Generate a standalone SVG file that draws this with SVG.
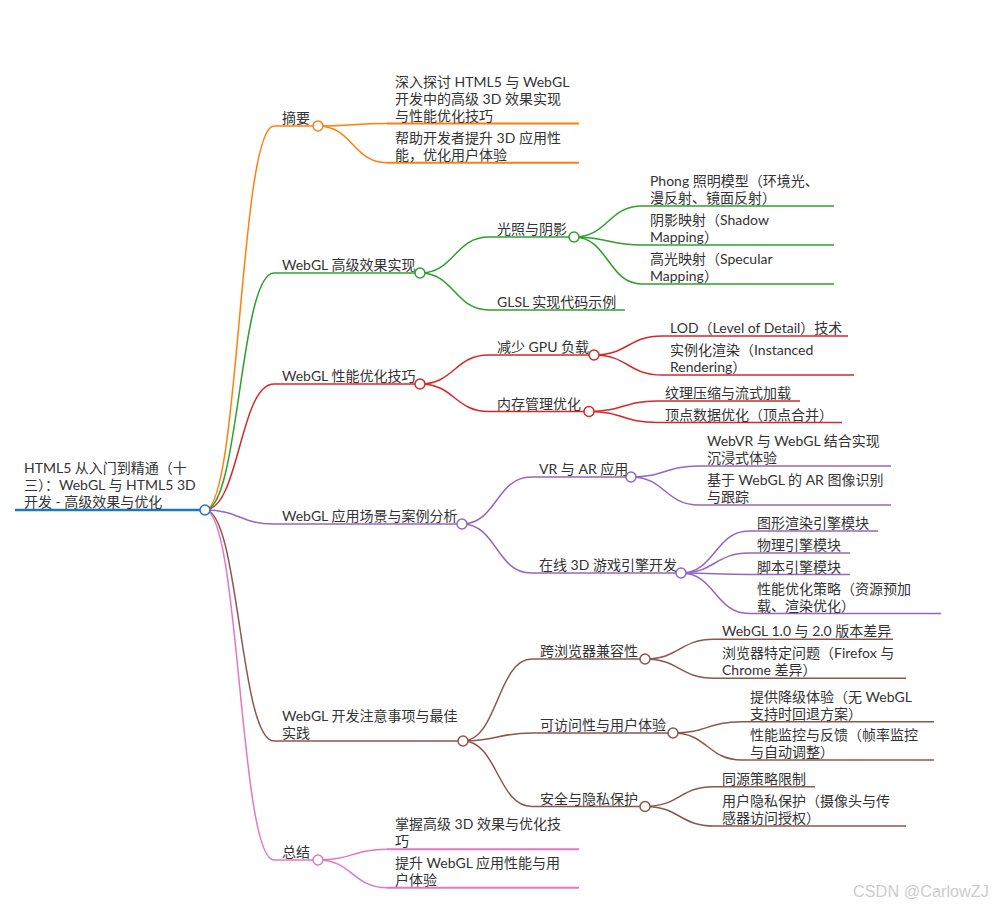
<svg xmlns="http://www.w3.org/2000/svg" width="1004" height="910" viewBox="0 0 1004 910">
<style>
text{font-family:Lato,"Noto Sans CJK SC",sans-serif;font-size:14px;fill:#333}
.wm{font-family:"Liberation Sans",Arial,sans-serif;font-size:16.3px;fill:#cdcdcd}
path,line{fill:none;stroke-width:1.5}
.dot{fill:#fff;stroke-width:1.5}
.b{stroke:#1f77b4}.o{stroke:#ff7f0e}.g{stroke:#2ca02c}.r{stroke:#d62728}.p{stroke:#9467bd}.n{stroke:#8c564b}.k{stroke:#e377c2}
</style>
<rect width="1004" height="910" fill="#fff"/>
<g id="connectors">
<path class="o" d="M205,510 C239.5,510 239.5,126 274,126"/>
<path class="g" d="M205,510 C239.5,510 239.5,273 274,273"/>
<path class="r" d="M205,510 C239.5,510 239.5,384 274,384"/>
<path class="p" d="M205,510 C239.5,510 239.5,524 274,524"/>
<path class="n" d="M205,510 C239.5,510 239.5,741 274,741"/>
<path class="k" d="M205,510 C239.5,510 239.5,860 274,860"/>
<path class="o" d="M318,126 C352.5,126 352.5,123.5 387,123.5"/>
<path class="o" d="M318,126 C352.5,126 352.5,162.7 387,162.7"/>
<path class="g" d="M420,273 C454.5,273 454.5,237 489,237"/>
<path class="g" d="M420,273 C454.5,273 454.5,310 489,310"/>
<path class="g" d="M574,237 C608,237 608,206 642,206"/>
<path class="g" d="M574,237 C608,237 608,245 642,245"/>
<path class="g" d="M574,237 C608,237 608,284 642,284"/>
<path class="r" d="M420,384 C454.5,384 454.5,355 489,355"/>
<path class="r" d="M420,384 C454.5,384 454.5,411.5 489,411.5"/>
<path class="r" d="M594,355 C628,355 628,336 662,336"/>
<path class="r" d="M594,355 C628,355 628,375 662,375"/>
<path class="r" d="M589,411.5 C623,411.5 623,401 657,401"/>
<path class="r" d="M589,411.5 C623,411.5 623,422.5 657,422.5"/>
<path class="p" d="M462,524 C496.5,524 496.5,477 531,477"/>
<path class="p" d="M462,524 C496.5,524 496.5,573 531,573"/>
<path class="p" d="M631,477 C665,477 665,466 699,466"/>
<path class="p" d="M631,477 C665,477 665,505 699,505"/>
<path class="p" d="M681,573 C715,573 715,531 749,531"/>
<path class="p" d="M681,573 C715,573 715,553 749,553"/>
<path class="p" d="M681,573 C715,573 715,574.5 749,574.5"/>
<path class="p" d="M681,573 C715,573 715,613.5 749,613.5"/>
<path class="n" d="M463,741 C497.5,741 497.5,659 532,659"/>
<path class="n" d="M463,741 C497.5,741 497.5,733 532,733"/>
<path class="n" d="M463,741 C497.5,741 497.5,806.5 532,806.5"/>
<path class="n" d="M645,659 C679.5,659 679.5,639.3 714,639.3"/>
<path class="n" d="M645,659 C679.5,659 679.5,678.3 714,678.3"/>
<path class="n" d="M673,733 C707.5,733 707.5,721.7 742,721.7"/>
<path class="n" d="M673,733 C707.5,733 707.5,760 742,760"/>
<path class="n" d="M645,806.5 C679.5,806.5 679.5,786.7 714,786.7"/>
<path class="n" d="M645,806.5 C679.5,806.5 679.5,826 714,826"/>
<path class="k" d="M318,860 C352.5,860 352.5,849.3 387,849.3"/>
<path class="k" d="M318,860 C352.5,860 352.5,887.7 387,887.7"/>
</g>

<g id="root">
<path class="b" style="stroke-width:2.5" d="M15,510 H205"/>
<text x="24" y="473"><tspan x="24" y="473">HTML5 从入门到精通（十</tspan><tspan x="24" y="490">三）：WebGL 与 HTML5 3D</tspan><tspan x="24" y="507">开发 - 高级效果与优化</tspan></text>
<circle class="dot b" cx="205" cy="510" r="5"/>
</g>

<g id="n-summary">
<path class="o" d="M274,126 H318"/>
<text x="282" y="123">摘要</text>
<circle class="dot o" cx="318" cy="126" r="5"/>
</g>
<g id="n-summary-1">
<path class="o" style="stroke-width:2" d="M387,123.5 H579"/>
<text x="395" y="86.5"><tspan x="395" y="86.5">深入探讨 HTML5 与 WebGL</tspan><tspan x="395" y="103.5">开发中的高级 3D 效果实现</tspan><tspan x="395" y="120.5">与性能优化技巧</tspan></text>
</g>
<g id="n-summary-2">
<path class="o" style="stroke-width:2" d="M387,162.7 H579"/>
<text x="395" y="142.7"><tspan x="395" y="142.7">帮助开发者提升 3D 应用性</tspan><tspan x="395" y="159.7">能，优化用户体验</tspan></text>
</g>

<g id="n-advanced">
<path class="g" d="M274,273 H420"/>
<text x="282" y="270">WebGL 高级效果实现</text>
<circle class="dot g" cx="420" cy="273" r="5"/>
</g>
<g id="n-lighting">
<path class="g" d="M489,237 H574"/>
<text x="497" y="234">光照与阴影</text>
<circle class="dot g" cx="574" cy="237" r="5"/>
</g>
<g id="n-phong">
<path class="g" d="M642,206 H834"/>
<text x="650" y="186"><tspan x="650" y="186">Phong 照明模型（环境光、</tspan><tspan x="650" y="203">漫反射、镜面反射）</tspan></text>
</g>
<g id="n-shadow">
<path class="g" d="M642,245 H834"/>
<text x="650" y="225"><tspan x="650" y="225">阴影映射（Shadow</tspan><tspan x="650" y="242">Mapping）</tspan></text>
</g>
<g id="n-specular">
<path class="g" d="M642,284 H834"/>
<text x="650" y="264"><tspan x="650" y="264">高光映射（Specular</tspan><tspan x="650" y="281">Mapping）</tspan></text>
</g>
<g id="n-glsl">
<path class="g" d="M489,310 H625"/>
<text x="497" y="307">GLSL 实现代码示例</text>
</g>

<g id="n-perf">
<path class="r" d="M274,384 H420"/>
<text x="282" y="381">WebGL 性能优化技巧</text>
<circle class="dot r" cx="420" cy="384" r="5"/>
</g>
<g id="n-gpu">
<path class="r" d="M489,355 H594"/>
<text x="497" y="352">减少 GPU 负载</text>
<circle class="dot r" cx="594" cy="355" r="5"/>
</g>
<g id="n-lod">
<path class="r" d="M662,336 H848"/>
<text x="670" y="333">LOD（Level of Detail）技术</text>
</g>
<g id="n-instanced">
<path class="r" d="M662,375 H854"/>
<text x="670" y="355"><tspan x="670" y="355">实例化渲染（Instanced</tspan><tspan x="670" y="372">Rendering）</tspan></text>
</g>
<g id="n-memory">
<path class="r" d="M489,411.5 H589"/>
<text x="497" y="408.5">内存管理优化</text>
<circle class="dot r" cx="589" cy="411.5" r="5"/>
</g>
<g id="n-texture">
<path class="r" d="M657,401 H800"/>
<text x="665" y="398">纹理压缩与流式加载</text>
</g>
<g id="n-vertex">
<path class="r" d="M657,422.5 H842"/>
<text x="665" y="419.5">顶点数据优化（顶点合并）</text>
</g>

<g id="n-apps">
<path class="p" d="M274,524 H462"/>
<text x="282" y="521">WebGL 应用场景与案例分析</text>
<circle class="dot p" cx="462" cy="524" r="5"/>
</g>
<g id="n-vrar">
<path class="p" d="M531,477 H631"/>
<text x="539" y="474">VR 与 AR 应用</text>
<circle class="dot p" cx="631" cy="477" r="5"/>
</g>
<g id="n-webvr">
<path class="p" d="M699,466 H891"/>
<text x="707" y="446"><tspan x="707" y="446">WebVR 与 WebGL 结合实现</tspan><tspan x="707" y="463">沉浸式体验</tspan></text>
</g>
<g id="n-ar">
<path class="p" d="M699,505 H891"/>
<text x="707" y="485"><tspan x="707" y="485">基于 WebGL 的 AR 图像识别</tspan><tspan x="707" y="502">与跟踪</tspan></text>
</g>
<g id="n-engine">
<path class="p" d="M531,573 H681"/>
<text x="539" y="570">在线 3D 游戏引擎开发</text>
<circle class="dot p" cx="681" cy="573" r="5"/>
</g>
<g id="n-render">
<path class="p" d="M749,531 H878"/>
<text x="757" y="528">图形渲染引擎模块</text>
</g>
<g id="n-physics">
<path class="p" d="M749,553 H850"/>
<text x="757" y="550">物理引擎模块</text>
</g>
<g id="n-script">
<path class="p" d="M749,574.5 H850"/>
<text x="757" y="571.5">脚本引擎模块</text>
</g>
<g id="n-strategy">
<path class="p" d="M749,613.5 H941"/>
<text x="757" y="593.5"><tspan x="757" y="593.5">性能优化策略（资源预加</tspan><tspan x="757" y="610.5">载、渲染优化）</tspan></text>
</g>

<g id="n-practice">
<path class="n" d="M274,741 H463"/>
<text x="282" y="721"><tspan x="282" y="721">WebGL 开发注意事项与最佳</tspan><tspan x="282" y="738">实践</tspan></text>
<circle class="dot n" cx="463" cy="741" r="5"/>
</g>
<g id="n-compat">
<path class="n" d="M532,659 H645"/>
<text x="540" y="656">跨浏览器兼容性</text>
<circle class="dot n" cx="645" cy="659" r="5"/>
</g>
<g id="n-version">
<path class="n" d="M714,639.3 H893"/>
<text x="722" y="636.3">WebGL 1.0 与 2.0 版本差异</text>
</g>
<g id="n-browser">
<path class="n" d="M714,678.3 H906"/>
<text x="722" y="658.3"><tspan x="722" y="658.3">浏览器特定问题（Firefox 与</tspan><tspan x="722" y="675.3">Chrome 差异）</tspan></text>
</g>
<g id="n-access">
<path class="n" d="M532,733 H673"/>
<text x="540" y="730">可访问性与用户体验</text>
<circle class="dot n" cx="673" cy="733" r="5"/>
</g>
<g id="n-fallback">
<path class="n" d="M742,721.7 H934"/>
<text x="750" y="701.7"><tspan x="750" y="701.7">提供降级体验（无 WebGL</tspan><tspan x="750" y="718.7">支持时回退方案）</tspan></text>
</g>
<g id="n-monitor">
<path class="n" d="M742,760 H934"/>
<text x="750" y="740"><tspan x="750" y="740">性能监控与反馈（帧率监控</tspan><tspan x="750" y="757">与自动调整）</tspan></text>
</g>
<g id="n-security">
<path class="n" d="M532,806.5 H645"/>
<text x="540" y="803.5">安全与隐私保护</text>
<circle class="dot n" cx="645" cy="806.5" r="5"/>
</g>
<g id="n-origin">
<path class="n" d="M714,786.7 H815"/>
<text x="722" y="783.7">同源策略限制</text>
</g>
<g id="n-privacy">
<path class="n" d="M714,826 H906"/>
<text x="722" y="806"><tspan x="722" y="806">用户隐私保护（摄像头与传</tspan><tspan x="722" y="823">感器访问授权）</tspan></text>
</g>

<g id="n-conclusion">
<path class="k" d="M274,860 H318"/>
<text x="282" y="857">总结</text>
<circle class="dot k" cx="318" cy="860" r="5"/>
</g>
<g id="n-conclusion-1">
<path class="k" style="stroke-width:2" d="M387,849.3 H579"/>
<text x="395" y="829.3"><tspan x="395" y="829.3">掌握高级 3D 效果与优化技</tspan><tspan x="395" y="846.3">巧</tspan></text>
</g>
<g id="n-conclusion-2">
<path class="k" style="stroke-width:2" d="M387,887.7 H579"/>
<text x="395" y="867.7"><tspan x="395" y="867.7">提升 WebGL 应用性能与用</tspan><tspan x="395" y="884.7">户体验</tspan></text>
</g>

<text class="wm" x="853" y="896.5">CSDN @CarlowZJ</text>
</svg>
